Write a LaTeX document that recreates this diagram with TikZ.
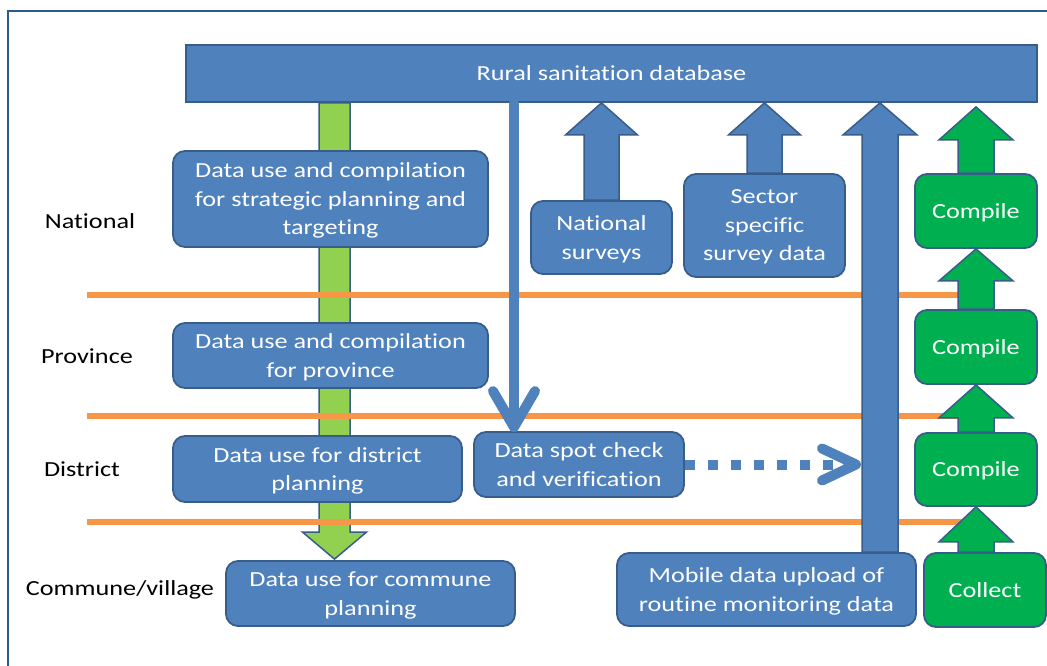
\documentclass[tikz,border=0pt]{standalone}
\usepackage{fontspec}
\setmainfont{Carlito}[FakeStretch=1.22, Ligatures=NoCommon]
\usetikzlibrary{calc}
\definecolor{boxblue}{HTML}{4F81BD}
\definecolor{edgeblue}{HTML}{385D8A}
\definecolor{lgreen}{HTML}{92D050}
\definecolor{dgreen}{HTML}{00B050}
\definecolor{sepor}{HTML}{F79646}
\definecolor{framec}{HTML}{2F5A8C}
\pgfdeclarelayer{paper}
\pgfdeclarelayer{bglayer}
\pgfdeclarelayer{midlayer}
\pgfsetlayers{paper,bglayer,midlayer,main}
% #1 style, #2 base, #3 tip, #4 head length, #5 head half width, #6 shaft half width
\newcommand\upblock[6]{%
  \path[#1] let \p1=(#2), \p2=(#3) in
    (\x2-#6pt,\y1) -- (\x2-#6pt,\y2-#4pt) -- (\x2-#5pt,\y2-#4pt) -- (\x2,\y2)
    -- (\x2+#5pt,\y2-#4pt) -- (\x2+#6pt,\y2-#4pt) -- (\x2+#6pt,\y1) -- cycle;}
\newcommand\downblock[6]{%
  \path[#1] let \p1=(#2), \p2=(#3) in
    (\x2-#6pt,\y1) -- (\x2-#6pt,\y2+#4pt) -- (\x2-#5pt,\y2+#4pt) -- (\x2,\y2)
    -- (\x2+#5pt,\y2+#4pt) -- (\x2+#6pt,\y2+#4pt) -- (\x2+#6pt,\y1) -- cycle;}
\tikzset{
  txt/.style={font=\fontsize{21.5}{28.5}\selectfont},
  bluebox/.style={txt, draw=edgeblue, line width=1.8pt, fill=boxblue, rounded corners=12pt,
    text=white, align=center, inner sep=0pt, text depth=-3pt},
  greenbox/.style={bluebox, fill=dgreen},
  dbbox/.style={bluebox, rounded corners=0pt},
  lvl/.style={txt, text=black, inner sep=0pt},
  bluearr/.style={fill=boxblue, draw=edgeblue, line width=1.5pt, line join=miter},
  greenarr/.style={fill=dgreen, draw=edgeblue, line width=1.5pt, line join=miter},
  lgreenarr/.style={fill=lgreen, draw=edgeblue, line width=1.5pt, line join=miter},
  seprule/.style={draw=sepor, line width=6pt},
  thinarr/.style={draw=boxblue, line width=10pt, line cap=round, line join=round},
  dotline/.style={draw=boxblue, line width=10pt, dash pattern=on 10pt off 13pt},
}
\begin{document}
\begin{tikzpicture}[x=1pt,y=-1pt]
\useasboundingbox (0,0) rectangle (1047,666);
\begin{pgfonlayer}{paper}
  \fill[white] (0,0) rectangle (1047,666);
  \draw[framec, line width=2.5pt] (8,700) -- (8,11) -- (1100,11);
\end{pgfonlayer}

% database
\node[dbbox, minimum width=851pt, minimum height=57pt] (db) at (611.5,73.5) {Rural sanitation database};

% left column boxes
\node[bluebox, minimum width=315pt, minimum height=96pt] (strat) at (330.5,199)
  {Data use and compilation\\for strategic planning and\\targeting};
\node[bluebox, minimum width=315pt, minimum height=65pt] (prov) at (330.5,355.5)
  {Data use and compilation\\for province};
\node[bluebox, minimum width=289pt, minimum height=66pt] (dist) at (317.5,469)
  {Data use for district\\planning};
\node[bluebox, minimum width=289pt, minimum height=65pt] (comm) at (370.5,593.5)
  {Data use for commune\\planning};

% middle boxes
\node[bluebox, minimum width=210pt, minimum height=65pt] (spot) at (579,464.5)
  {Data spot check\\and verification};
\node[bluebox, minimum width=141pt, minimum height=73pt] (natsurv) at (601.5,237.5)
  {National\\surveys};
\node[bluebox, minimum width=161pt, minimum height=103pt] (sector) at (764.5,225.5)
  {Sector\\specific\\survey data};
\node[bluebox, minimum width=299pt, minimum height=73pt] (mobile) at (766.5,589.5)
  {Mobile data upload of\\routine monitoring data};

% right column
\node[greenbox, minimum width=122pt, minimum height=74pt] (comp1) at (976,211) {Compile};
\node[greenbox, minimum width=122pt, minimum height=74pt] (comp2) at (976,347) {Compile};
\node[greenbox, minimum width=122pt, minimum height=73pt] (comp3) at (976,469.5) {Compile};
\node[greenbox, minimum width=122pt, minimum height=74pt] (collect) at (985,590) {Collect};

% level labels
\node[lvl] (lnat) at (90,221) {National};
\node[lvl] (lprov) at (87,356) {Province};
\node[lvl] (ldist) at (82,469) {District};
\node[lvl] (lcomm) at (120,590) {Commune/village};

% helper coordinates
\coordinate (greenx) at (334.5,300);
\coordinate (thinx) at (514,300);
\coordinate (bigx) at (880,300);
\coordinate (sepL) at (87,0);
\coordinate (sepR) at (970,0);

% green left arrow (behind boxes)
\begin{pgfonlayer}{bglayer}
  \downblock{lgreenarr}{db.south -| greenx}{$(comm.north -| greenx)+(0,-1)$}{27}{32}{15.5}
\end{pgfonlayer}

% orange level separators
\begin{pgfonlayer}{midlayer}
  \draw[seprule] (sepL |- 0,295) -- (sepR |- 0,295);
  \draw[seprule] (sepL |- 0,416) -- (sepR |- 0,416);
  \draw[seprule] (sepL |- 0,522) -- (sepR |- 0,522);
\end{pgfonlayer}

% blue up arrows
\upblock{bluearr}{natsurv.north}{db.south -| natsurv.north}{32}{36}{17.5}
\upblock{bluearr}{sector.north}{db.south -| sector.north}{32}{36}{17.5}
\upblock{bluearr}{mobile.north -| bigx}{db.south -| bigx}{32}{37}{18}

% green up arrows
\upblock{greenarr}{comp1.north}{$(db.south -| comp1.north)+(0,4)$}{33}{37}{18}
\upblock{greenarr}{comp2.north}{comp1.south}{32}{37}{18}
\upblock{greenarr}{comp3.north}{comp2.south}{33}{37}{18}
\upblock{greenarr}{collect.north -| comp3.north}{comp3.south}{35}{37}{18}

% thin blue arrow from database to spot check
\coordinate (thintip) at ($(spot.north -| thinx)+(0,-4)$);
\draw[thinarr] (db.south -| thinx) -- (thintip);
\draw[thinarr] ($(thintip)+(-21,-36)$) -- (thintip) -- ($(thintip)+(21,-36)$);

% dotted arrow from spot check to mobile upload arrow
\coordinate (dottip) at ($(spot.east -| bigx)+(-24,0)$);
\draw[dotline] (spot.east) -- (dottip);
\draw[thinarr] ($(dottip)+(-34,-16)$) -- (dottip) -- ($(dottip)+(-34,16)$);
\end{tikzpicture}
\end{document}
